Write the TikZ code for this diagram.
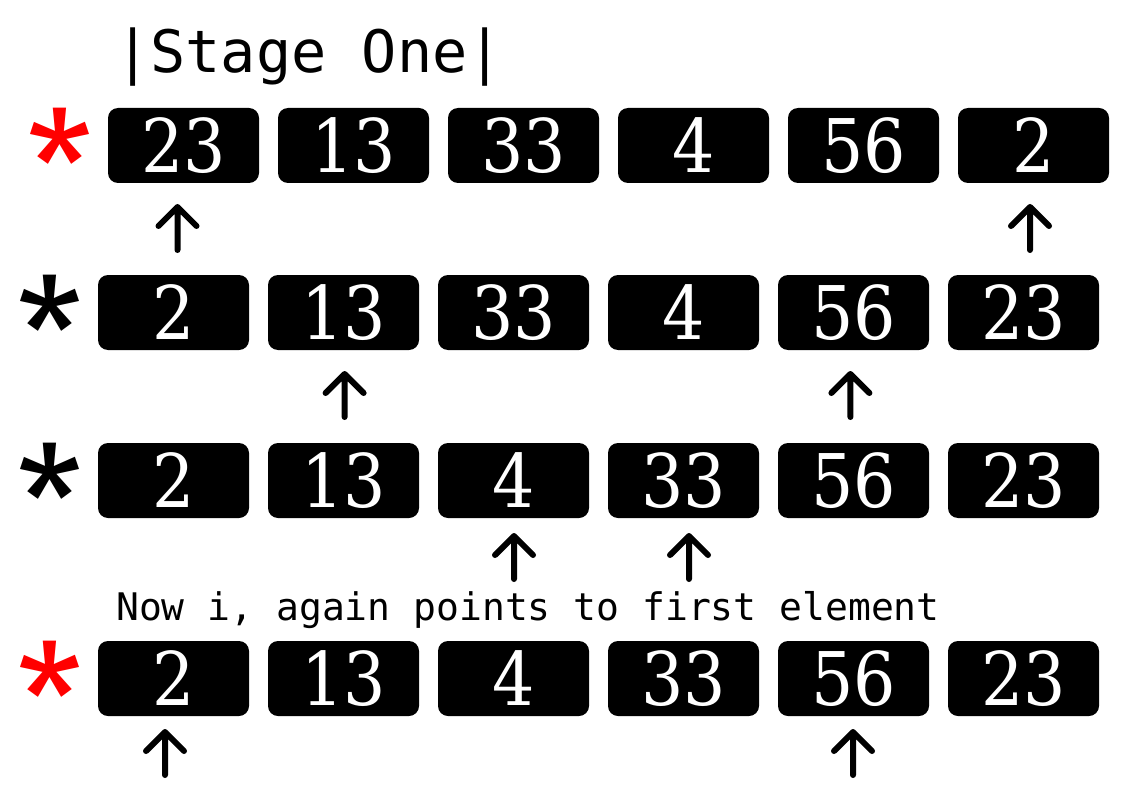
\documentclass[tikz,border=0pt]{standalone}
\usepackage{fontspec}
\setmonofont{DejaVu Sans Mono}
\newfontfamily\fira{Fira Sans}
\newfontfamily\dvcond{DejaVu Serif Condensed}
\usepackage{tikz}

\begin{document}
\begin{tikzpicture}[x=1pt,y=-1pt,
	cell/.style={fill=black,text=white,rounded corners=10pt,minimum width=151pt,minimum height=75pt,inner sep=0pt,text depth=0pt,font=\dvcond\fontsize{74}{74}\selectfont},
	star/.style={inner sep=0pt,yshift=-17pt,font=\fira\fontsize{148}{148}\selectfont},
	ptr/.style={line width=6pt,line cap=round,line join=round}]
\useasboundingbox (0,0) rectangle (1123,794);

\node[font=\ttfamily\fontsize{58.5}{60}\selectfont,anchor=base] (title) at (309,73) {|Stage One|};

% row one
\node[star,text=red] (s1) at (60,145.5) {*};
\foreach \v [count=\i] in {23,13,33,4,56,2}
	\node[cell] (a\i) at (13.5+170*\i,145.5) {\v};

% row two
\node[star] (s2) at (50,312.5) {*};
\foreach \v [count=\i] in {2,13,33,4,56,23}
	\node[cell] (b\i) at (3.5+170*\i,312.5) {\v};

% row three
\node[star] (s3) at (50,480.5) {*};
\foreach \v [count=\i] in {2,13,4,33,56,23}
	\node[cell] (c\i) at (3.5+170*\i,480.5) {\v};

\node[font=\ttfamily\fontsize{38}{40}\selectfont,anchor=base] (note) at (528,620) {Now i, again points to first element};

% row four
\node[star,text=red] (s4) at (50,678.5) {*};
\foreach \v [count=\i] in {2,13,4,33,56,23}
	\node[cell] (d\i) at (3.5+170*\i,678.5) {\v};

% pointers
\foreach \x/\y in {177.5/207,1030/207,344.6/374,850.4/374,514/536,689/536,165/732,853/732}
	\draw[ptr] (\x-19,\y+19) -- (\x,\y) -- (\x+19,\y+19) (\x,\y) -- (\x,\y+43);
\end{tikzpicture}
\end{document}
